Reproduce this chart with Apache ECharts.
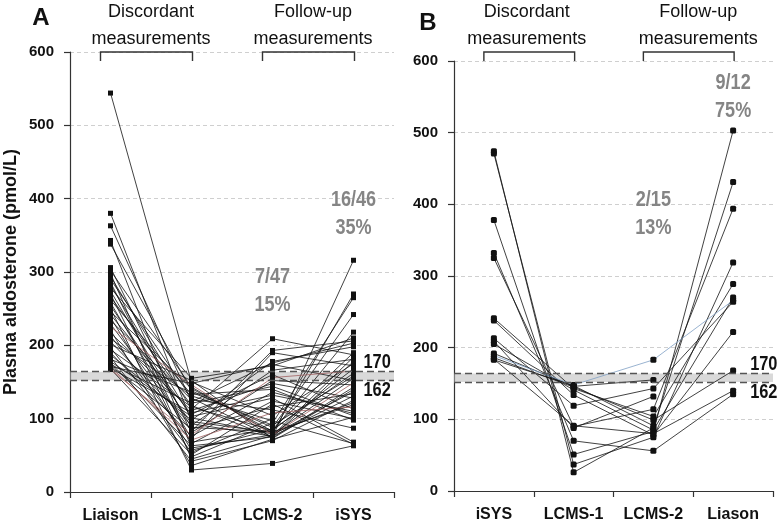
<!DOCTYPE html>
<html><head><meta charset="utf-8">
<script src="https://cdn.jsdelivr.net/npm/echarts@6/dist/echarts.min.js"></script>
<style>html,body{margin:0;padding:0;background:#fff}#c{width:780px;height:527px}</style>
</head><body><div id="c"></div>
<script>
// ---------- data ----------
const catsA = ['Liaison', 'LCMS-1', 'LCMS-2', 'iSYS'];
const catsB = ['iSYS', 'LCMS-1', 'LCMS-2', 'Liason'];
const yMin = 0, yMax = 600, yStep = 100;
const bandLow = 152, bandHigh = 164;

// Panel A: one entry per patient (47)
const aLiaison = [544,380,363,343,338,306,302,298,294,290,286,282,278,274,270,266,262,258,254,250,246,242,238,234,229,225,221,217,213,209,205,201,197,194,190,187,184,181,178,176,174,172,171,170,169,168,167];
const aLcms1   = [150,96,123,60,138,81,143,45,113,128,66,101,155,88,48,118,133,73,93,30,141,106,57,126,83,146,36,111,68,131,91,152,54,116,76,98,42,136,103,63,121,86,148,71,108,51,78];
const aLcms2   = [104,81,176,78,88,152,80,77,209,75,124,79,172,82,94,74,140,190,76,39,83,160,85,112,193,78,72,148,86,97,166,73,100,84,136,178,70,91,128,75,144,116,174,108,132,120,156];
const aIsys    = [175,270,203,137,242,146,122,184,187,316,100,155,210,119,265,143,98,172,131,63,218,113,162,87,206,149,102,128,190,66,181,140,null,168,107,198,125,158,68,178,104,134,152,116,110,65,165];

// Panel B: one entry per patient (15)
const bIsys    = [474,471,378,332,325,241,238,213,209,205,192,189,186,184,183];
const bLcms1   = [26,37,51,70,90,143,134,119,88,141,146,148,145,91,147];
const bLcms2   = [88,75,83,56,114,104,78,143,132,85,155,183,99,80,91];
const bLiason  = [431,319,503,135,394,289,222,264,null,270,null,266,168,140,null];

const annotA = [['7/47','15%','LCMS-2',293,255], ['16/46','35%','iSYS',398,360]];
const annotB = [['2/15','13%','LCMS-2',406,367], ['9/12','75%','Liason',569,530]];
const cutLabels = ['170', '162'];

// ---------- chart ----------
const chart = echarts.init(document.getElementById('c'), null, {renderer: 'canvas'});
const FONT = 'Liberation Sans, Arial, sans-serif';

function xAx(idx, cats) {
  return {
    type: 'category', gridIndex: idx, data: cats, boundaryGap: true,
    axisLine: {lineStyle: {color: '#333', width: 1.2}},
    axisTick: {show: true, length: 6, lineStyle: {color: '#333', width: 1.2}},
    axisLabel: {interval: 0, color: '#111', fontWeight: 'bold', fontSize: 16, fontFamily: FONT, margin: 16},
    splitLine: {show: false}
  };
}
function yAx(idx, withName) {
  return {
    type: 'value', gridIndex: idx, min: yMin, max: yMax, interval: yStep,
    name: withName ? 'Plasma aldosterone (pmol/L)' : '',
    nameLocation: 'middle', nameRotate: 90, nameGap: 50,
    nameTextStyle: {color: '#111', fontWeight: 'bold', fontSize: 18, fontFamily: FONT},
    axisLine: {show: true, lineStyle: {color: '#333', width: 1.2}},
    axisTick: {show: true, length: 6, lineStyle: {color: '#333', width: 1.2}},
    axisLabel: {color: '#111', fontWeight: 'bold', fontSize: 15, fontFamily: FONT, margin: 16},
    splitLine: {show: true, lineStyle: {color: '#cfcfcf', type: [4, 3], width: 1}}
  };
}

const series = [];
function band() {
  return {
    markArea: {silent: true, itemStyle: {color: 'rgba(185,185,185,0.55)'}, data: [[{yAxis: bandLow}, {yAxis: bandHigh}]]},
    markLine: {silent: true, symbol: 'none', label: {show: false},
      lineStyle: {type: [7, 4], color: '#555', width: 1.3},
      data: [{yAxis: bandLow}, {yAxis: bandHigh}]}
  };
}
for (let i = 0; i < aLiaison.length; i++) {
  const red = (i === 25 || i === 43 || i === 46);
  const s = {
    type: 'line', xAxisIndex: 0, yAxisIndex: 0,
    data: [aLiaison[i], aLcms1[i], aLcms2[i], aIsys[i]],
    symbol: 'rect', symbolSize: 5, showSymbol: true,
    lineStyle: {width: 0.8, color: red ? '#a06060' : '#111'},
    itemStyle: {color: '#111'}, silent: true, z: 3
  };
  if (i === 0) Object.assign(s, band());
  series.push(s);
}
for (let i = 0; i < bIsys.length; i++) {
  const blue = (i === 11);
  const s = {
    type: 'line', xAxisIndex: 1, yAxisIndex: 1,
    data: [bIsys[i], bLcms1[i], bLcms2[i], bLiason[i]],
    symbol: 'roundRect', symbolSize: 6, showSymbol: true,
    lineStyle: {width: 0.8, color: blue ? '#7f9fc4' : '#111'},
    itemStyle: {color: '#111'}, silent: true, z: 3
  };
  if (i === 0) Object.assign(s, band());
  series.push(s);
}

chart.setOption({
  animation: false,
  backgroundColor: '#fff',
  grid: [
    {left: 70, right: 386, top: 52, bottom: 35},
    {left: 454, right: 7, top: 61, bottom: 36}
  ],
  xAxis: [xAx(0, catsA), xAx(1, catsB)],
  yAxis: [yAx(0, true), yAx(1, false)],
  series: series
});

// ---------- annotations ----------
function px(g, cat, v) {
  return chart.convertToPixel({xAxisIndex: g, yAxisIndex: g}, [cat, v]);
}
const gr = [];
function txt(x, y, t, font, fill, align, sx) {
  gr.push({type: 'text', z: 10, x: x, y: y, scaleX: sx || 1,
    style: {x: 0, y: 0, text: t, font: font, fill: fill || '#111',
    textAlign: align || 'center', textVerticalAlign: 'middle'}});
}
function bracket(x1, x2) {
  gr.push({type: 'polyline', z: 10, shape: {points: [[x1, 61], [x1, 52], [x2, 52], [x2, 61]]},
    style: {stroke: '#333', lineWidth: 1.4, fill: null}});
}
[[0, catsA, 'A', 41, 18, 0, 0], [1, catsB, 'B', 428, 23, -7, 5]].forEach(function (p) {
  const g = p[0], cats = p[1];
  const c0 = px(g, cats[0], 0)[0], c1 = px(g, cats[1], 0)[0], c2 = px(g, cats[2], 0)[0], c3 = px(g, cats[3], 0)[0];
  txt(p[3], p[4], p[2], 'bold 24px ' + FONT);
  const m1 = (c0 + c1) / 2 + p[5], m2 = (c2 + c3) / 2 + p[6];
  txt(m1, 12, 'Discordant', '18px ' + FONT);
  txt(m1, 39, 'measurements', '18px ' + FONT);
  txt(m2, 12, 'Follow-up', '18px ' + FONT);
  txt(m2, 39, 'measurements', '18px ' + FONT);
  bracket(c0 - 10, c1 + 1);
  bracket(c2 - 10, c3 + 1);
});
[[0, annotA], [1, annotB]].forEach(function (p) {
  p[1].forEach(function (a) {
    const p1 = px(p[0], a[2], a[3]), p2 = px(p[0], a[2], a[4]);
    txt(p1[0], p1[1], a[0], 'bold 22px ' + FONT, '#858585', 'center', 0.82);
    txt(p2[0], p2[1], a[1], 'bold 22px ' + FONT, '#858585', 'center', 0.82);
  });
});
// threshold labels
[[0, 'iSYS', 10], [1, 'Liason', 17]].forEach(function (p) {
  const a = px(p[0], p[1], 177), b = px(p[0], p[1], 138);
  txt(a[0] + p[2], a[1], cutLabels[0], 'bold 20px ' + FONT, '#111', 'left', 0.82);
  txt(b[0] + p[2], b[1], cutLabels[1], 'bold 20px ' + FONT, '#111', 'left', 0.82);
});
chart.setOption({graphic: {elements: gr}});
</script>
</body></html>
